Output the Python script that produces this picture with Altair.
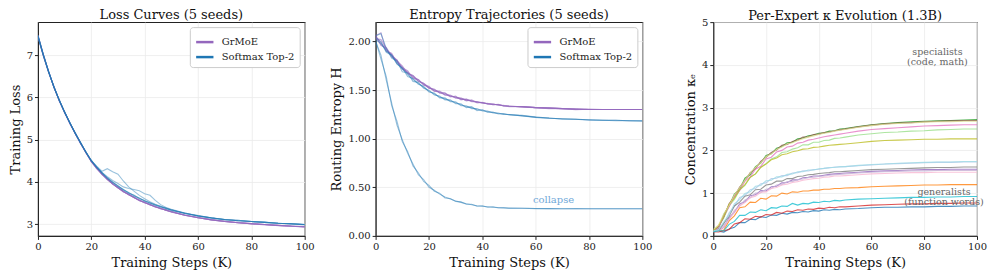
import altair as alt
import pandas as pd

STEPS = [0, 2, 4, 6, 8, 10, 12, 14, 16, 18, 20, 22,
         24, 26, 28, 30, 32, 34, 36, 38, 40, 42, 44, 46,
         48, 50, 55, 60, 65, 70, 75, 80, 85, 90, 95, 100]

# ---------------- Panel 1: training loss ----------------
LOSS_GRMOE = [
    [7.47, 7.01, 6.61, 6.23, 5.93, 5.64, 5.38, 5.14, 4.91, 4.69, 4.48, 4.32,
     4.18, 4.06, 3.95, 3.86, 3.77, 3.70, 3.63, 3.56, 3.51, 3.46, 3.41, 3.37,
     3.33, 3.29, 3.21, 3.15, 3.10, 3.06, 3.03, 3.01, 2.99, 2.97, 2.95, 2.94],
    [7.44, 6.99, 6.59, 6.25, 5.91, 5.65, 5.37, 5.15, 4.90, 4.70, 4.47, 4.33,
     4.17, 4.07, 3.94, 3.87, 3.76, 3.71, 3.62, 3.57, 3.50, 3.47, 3.40, 3.38,
     3.32, 3.30, 3.21, 3.16, 3.10, 3.07, 3.03, 3.01, 2.99, 2.97, 2.96, 2.94],
    [7.46, 7.02, 6.60, 6.24, 5.93, 5.63, 5.39, 5.13, 4.92, 4.68, 4.49, 4.31,
     4.19, 4.05, 3.96, 3.85, 3.78, 3.69, 3.64, 3.55, 3.52, 3.45, 3.42, 3.36,
     3.34, 3.28, 3.22, 3.15, 3.11, 3.06, 3.04, 3.00, 2.99, 2.96, 2.95, 2.93],
    [7.45, 7.00, 6.61, 6.23, 5.92, 5.64, 5.38, 5.14, 4.91, 4.69, 4.48, 4.32,
     4.18, 4.06, 3.95, 3.86, 3.77, 3.70, 3.63, 3.56, 3.51, 3.46, 3.41, 3.37,
     3.33, 3.29, 3.21, 3.15, 3.10, 3.06, 3.03, 3.01, 2.99, 2.97, 2.95, 2.94],
    [7.43, 6.98, 6.60, 6.25, 5.91, 5.65, 5.38, 5.15, 4.91, 4.70, 4.48, 4.33,
     4.18, 4.06, 3.95, 3.86, 3.77, 3.70, 3.63, 3.57, 3.51, 3.46, 3.41, 3.37,
     3.33, 3.29, 3.21, 3.15, 3.10, 3.06, 3.03, 3.01, 2.98, 2.97, 2.95, 2.93],
]
LOSS_SOFTMAX = [
    [7.46, 7.01, 6.62, 6.23, 5.94, 5.64, 5.40, 5.14, 4.93, 4.70, 4.51, 4.35,
     4.22, 4.09, 3.99, 3.90, 3.82, 3.74, 3.68, 3.61, 3.55, 3.50, 3.45, 3.41,
     3.37, 3.33, 3.25, 3.19, 3.14, 3.11, 3.08, 3.06, 3.04, 3.02, 3.00, 2.99],
    [7.43, 6.98, 6.59, 6.26, 5.92, 5.66, 5.38, 5.16, 4.91, 4.71, 4.49, 4.36,
     4.20, 4.10, 3.98, 3.91, 3.80, 3.75, 3.66, 3.62, 3.54, 3.51, 3.44, 3.42,
     3.36, 3.34, 3.25, 3.20, 3.14, 3.11, 3.08, 3.06, 3.04, 3.02, 3.01, 2.99],
    [7.47, 7.02, 6.61, 6.24, 5.93, 5.64, 5.40, 5.14, 4.93, 4.69, 4.51, 4.34,
     4.22, 4.08, 4.00, 3.89, 3.82, 3.73, 3.68, 3.60, 3.56, 3.49, 3.46, 3.40,
     3.38, 3.32, 3.26, 3.19, 3.15, 3.10, 3.09, 3.06, 3.05, 3.02, 3.01, 2.98],
    [7.45, 7.00, 6.60, 6.24, 5.93, 5.65, 5.39, 5.15, 4.92, 4.70, 4.50, 4.37,
     4.25, 4.31, 4.24, 4.18, 4.02, 3.88, 3.78, 3.68, 3.60, 3.53, 3.47, 3.42,
     3.38, 3.34, 3.26, 3.19, 3.15, 3.11, 3.08, 3.06, 3.04, 3.02, 3.00, 2.99],
    [7.44, 7.01, 6.60, 6.25, 5.93, 5.65, 5.39, 5.15, 4.92, 4.70, 4.50, 4.35,
     4.22, 4.12, 4.03, 3.96, 3.88, 3.84, 3.82, 3.79, 3.72, 3.68, 3.56, 3.46,
     3.39, 3.35, 3.26, 3.20, 3.15, 3.11, 3.09, 3.06, 3.04, 3.02, 3.01, 2.99],
]

# ---------------- Panel 2: routing entropy ----------------
ENT_GRMOE = [
    [2.05, 1.99, 1.91, 1.87, 1.79, 1.74, 1.67, 1.65, 1.59, 1.57, 1.52, 1.51,
     1.47, 1.46, 1.44, 1.43, 1.41, 1.40, 1.39, 1.38, 1.37, 1.36, 1.355, 1.35,
     1.34, 1.335, 1.33, 1.32, 1.315, 1.31, 1.305, 1.30, 1.30, 1.30, 1.30, 1.30],
    [2.03, 2.02, 1.93, 1.84, 1.81, 1.72, 1.69, 1.63, 1.61, 1.55, 1.54, 1.49,
     1.49, 1.45, 1.45, 1.42, 1.42, 1.39, 1.40, 1.37, 1.375, 1.355, 1.36, 1.345,
     1.345, 1.33, 1.33, 1.32, 1.32, 1.31, 1.305, 1.30, 1.30, 1.30, 1.30, 1.30],
    [2.07, 1.96, 1.94, 1.85, 1.80, 1.75, 1.67, 1.65, 1.60, 1.56, 1.53, 1.50,
     1.48, 1.47, 1.43, 1.44, 1.40, 1.41, 1.38, 1.38, 1.365, 1.365, 1.35, 1.355,
     1.335, 1.34, 1.325, 1.32, 1.31, 1.31, 1.30, 1.305, 1.30, 1.30, 1.30, 1.30],
    [2.06, 2.09, 1.90, 1.88, 1.78, 1.73, 1.70, 1.62, 1.61, 1.56, 1.52, 1.51,
     1.47, 1.47, 1.44, 1.42, 1.41, 1.40, 1.39, 1.37, 1.37, 1.36, 1.355, 1.35,
     1.34, 1.335, 1.33, 1.32, 1.315, 1.31, 1.305, 1.30, 1.30, 1.30, 1.30, 1.30],
    [2.04, 1.97, 1.92, 1.86, 1.81, 1.72, 1.68, 1.64, 1.59, 1.57, 1.53, 1.49,
     1.48, 1.45, 1.44, 1.43, 1.41, 1.40, 1.385, 1.38, 1.37, 1.36, 1.35, 1.35,
     1.34, 1.335, 1.33, 1.32, 1.315, 1.31, 1.305, 1.30, 1.30, 1.30, 1.30, 1.30],
]
ENT_SOFTMAX = [
    [2.04, 2.00, 1.89, 1.86, 1.77, 1.73, 1.64, 1.62, 1.56, 1.54, 1.48, 1.47,
     1.42, 1.42, 1.38, 1.38, 1.34, 1.34, 1.31, 1.31, 1.285, 1.285, 1.265, 1.265,
     1.25, 1.25, 1.235, 1.22, 1.21, 1.205, 1.20, 1.195, 1.19, 1.19, 1.185, 1.185],
    [2.06, 2.08, 1.93, 1.83, 1.80, 1.69, 1.68, 1.59, 1.58, 1.52, 1.50, 1.45,
     1.44, 1.40, 1.40, 1.36, 1.36, 1.32, 1.33, 1.29, 1.30, 1.27, 1.275, 1.255,
     1.26, 1.245, 1.24, 1.22, 1.215, 1.20, 1.20, 1.19, 1.19, 1.185, 1.185, 1.18],
    [2.02, 1.98, 1.90, 1.86, 1.77, 1.72, 1.66, 1.61, 1.57, 1.53, 1.49, 1.46,
     1.43, 1.41, 1.39, 1.37, 1.35, 1.33, 1.32, 1.30, 1.29, 1.28, 1.27, 1.26,
     1.255, 1.25, 1.235, 1.225, 1.21, 1.205, 1.20, 1.195, 1.19, 1.19, 1.185, 1.185],
    [2.00, 1.86, 1.60, 1.37, 1.14, 0.99, 0.85, 0.74, 0.63, 0.58, 0.50, 0.47,
     0.43, 0.40, 0.38, 0.36, 0.345, 0.33, 0.32, 0.31, 0.305, 0.30, 0.295, 0.29,
     0.288, 0.286, 0.284, 0.282, 0.281, 0.28, 0.28, 0.28, 0.28, 0.28, 0.28, 0.28],
    [2.01, 1.82, 1.64, 1.34, 1.18, 0.97, 0.87, 0.72, 0.65, 0.56, 0.52, 0.46,
     0.44, 0.39, 0.385, 0.355, 0.35, 0.325, 0.325, 0.305, 0.31, 0.295, 0.30, 0.29,
     0.29, 0.285, 0.285, 0.281, 0.282, 0.279, 0.281, 0.279, 0.28, 0.279, 0.28, 0.279],
]

# ---------------- Panel 3: per-expert concentration ----------------
EXPERT_COLORS = ["#1f77b4", "#aec7e8", "#ff7f0e", "#2ca02c", "#98df8a", "#d62728",
                 "#9467bd", "#c5b0d5", "#8c564b", "#e377c2", "#f7b6d2", "#7f7f7f",
                 "#bcbd22", "#dbdb8d", "#17becf", "#9edae5"]
KAPPA = [
    [0.10, 0.11, 0.09, 0.16, 0.20, 0.31, 0.31, 0.39, 0.38, 0.45, 0.43, 0.49,
     0.48, 0.53, 0.51, 0.55, 0.54, 0.57, 0.56, 0.59, 0.58, 0.61, 0.60, 0.62,
     0.61, 0.63, 0.64, 0.66, 0.67, 0.67, 0.68, 0.68, 0.69, 0.69, 0.70, 0.70],
    [0.10, 0.15, 0.28, 0.54, 0.69, 0.90, 0.94, 1.08, 1.11, 1.22, 1.24, 1.34,
     1.35, 1.41, 1.41, 1.47, 1.48, 1.52, 1.52, 1.55, 1.56, 1.58, 1.59, 1.61,
     1.61, 1.62, 1.64, 1.66, 1.68, 1.69, 1.70, 1.71, 1.72, 1.72, 1.73, 1.73],
    [0.10, 0.11, 0.14, 0.35, 0.47, 0.66, 0.68, 0.79, 0.78, 0.88, 0.86, 0.94,
     0.93, 1.00, 0.98, 1.03, 1.02, 1.05, 1.05, 1.07, 1.07, 1.09, 1.09, 1.11,
     1.11, 1.12, 1.13, 1.15, 1.16, 1.17, 1.18, 1.19, 1.19, 1.20, 1.20, 1.20],
    [0.10, 0.18, 0.50, 0.70, 0.98, 1.09, 1.35, 1.43, 1.62, 1.70, 1.88, 1.92,
     2.05, 2.09, 2.18, 2.19, 2.27, 2.29, 2.34, 2.36, 2.40, 2.41, 2.45, 2.46,
     2.50, 2.51, 2.56, 2.60, 2.63, 2.65, 2.67, 2.68, 2.69, 2.70, 2.71, 2.72],
    [0.11, 0.21, 0.42, 0.70, 0.85, 1.07, 1.18, 1.37, 1.45, 1.61, 1.69, 1.80,
     1.85, 1.95, 1.97, 2.03, 2.06, 2.13, 2.13, 2.19, 2.19, 2.23, 2.24, 2.28,
     2.29, 2.31, 2.36, 2.39, 2.42, 2.43, 2.45, 2.46, 2.48, 2.49, 2.50, 2.50],
    [0.10, 0.09, 0.12, 0.15, 0.28, 0.31, 0.40, 0.39, 0.46, 0.44, 0.50, 0.49,
     0.55, 0.53, 0.58, 0.57, 0.61, 0.60, 0.63, 0.62, 0.65, 0.64, 0.67, 0.66,
     0.68, 0.68, 0.70, 0.72, 0.73, 0.74, 0.75, 0.75, 0.76, 0.76, 0.77, 0.77],
    [0.10, 0.12, 0.20, 0.43, 0.55, 0.75, 0.80, 0.94, 0.96, 1.06, 1.05, 1.15,
     1.16, 1.24, 1.25, 1.31, 1.31, 1.36, 1.37, 1.40, 1.40, 1.42, 1.44, 1.45,
     1.46, 1.47, 1.49, 1.51, 1.52, 1.53, 1.54, 1.55, 1.55, 1.56, 1.56, 1.56],
    [0.11, 0.13, 0.24, 0.38, 0.60, 0.70, 0.84, 0.89, 1.00, 1.01, 1.09, 1.11,
     1.19, 1.20, 1.27, 1.27, 1.32, 1.33, 1.36, 1.37, 1.39, 1.40, 1.42, 1.43,
     1.44, 1.45, 1.47, 1.49, 1.50, 1.51, 1.52, 1.52, 1.53, 1.53, 1.53, 1.53],
    [0.12, 0.22, 0.45, 0.75, 0.92, 1.14, 1.29, 1.48, 1.57, 1.74, 1.84, 1.95,
     2.01, 2.12, 2.14, 2.21, 2.24, 2.31, 2.32, 2.37, 2.38, 2.42, 2.43, 2.46,
     2.48, 2.50, 2.55, 2.59, 2.62, 2.64, 2.65, 2.67, 2.68, 2.69, 2.70, 2.70],
    [0.10, 0.19, 0.47, 0.68, 0.93, 1.06, 1.28, 1.38, 1.56, 1.63, 1.80, 1.84,
     1.96, 2.00, 2.08, 2.10, 2.17, 2.19, 2.24, 2.26, 2.29, 2.32, 2.34, 2.36,
     2.38, 2.40, 2.45, 2.49, 2.51, 2.53, 2.55, 2.57, 2.58, 2.59, 2.60, 2.60],
    [0.10, 0.11, 0.21, 0.39, 0.55, 0.70, 0.78, 0.89, 0.93, 1.02, 1.03, 1.11,
     1.13, 1.19, 1.21, 1.25, 1.27, 1.30, 1.32, 1.34, 1.35, 1.37, 1.38, 1.40,
     1.40, 1.41, 1.43, 1.45, 1.46, 1.47, 1.48, 1.48, 1.49, 1.49, 1.49, 1.49],
    [0.10, 0.12, 0.30, 0.46, 0.70, 0.79, 0.93, 0.96, 1.08, 1.09, 1.19, 1.21,
     1.28, 1.28, 1.34, 1.34, 1.39, 1.40, 1.43, 1.44, 1.46, 1.47, 1.48, 1.50,
     1.50, 1.51, 1.53, 1.55, 1.56, 1.57, 1.58, 1.59, 1.60, 1.60, 1.61, 1.61],
    [0.12, 0.24, 0.46, 0.74, 0.88, 1.08, 1.20, 1.37, 1.45, 1.60, 1.68, 1.78,
     1.82, 1.90, 1.92, 1.97, 1.99, 2.03, 2.04, 2.07, 2.08, 2.10, 2.12, 2.13,
     2.14, 2.15, 2.18, 2.21, 2.23, 2.24, 2.25, 2.26, 2.26, 2.27, 2.27, 2.27],
    [0.15, 0.25, 0.52, 0.71, 0.96, 1.13, 1.30, 1.47, 1.60, 1.71, 1.85, 1.92,
     2.02, 2.08, 2.15, 2.18, 2.23, 2.27, 2.31, 2.34, 2.37, 2.40, 2.42, 2.45,
     2.47, 2.49, 2.54, 2.58, 2.61, 2.63, 2.64, 2.66, 2.67, 2.67, 2.68, 2.68],
    [0.10, 0.12, 0.12, 0.27, 0.34, 0.48, 0.48, 0.56, 0.55, 0.61, 0.59, 0.66,
     0.65, 0.70, 0.69, 0.76, 0.72, 0.76, 0.75, 0.79, 0.78, 0.81, 0.80, 0.83,
     0.82, 0.84, 0.86, 0.87, 0.88, 0.89, 0.90, 0.90, 0.91, 0.91, 0.92, 0.92],
    [0.12, 0.14, 0.33, 0.49, 0.75, 0.85, 0.99, 1.03, 1.16, 1.18, 1.29, 1.30,
     1.38, 1.38, 1.44, 1.45, 1.50, 1.50, 1.54, 1.54, 1.57, 1.58, 1.60, 1.60,
     1.62, 1.62, 1.65, 1.67, 1.68, 1.70, 1.71, 1.72, 1.73, 1.73, 1.74, 1.74],
]

METHODS = ["GrMoE", "Softmax Top-2"]
METHOD_COLORS = ["#9467bd", "#1f77b4"]
X_TICKS = [0, 20, 40, 60, 80, 100]
LOSS_TICKS = [3, 4, 5, 6, 7]
ENT_TICKS = [0.0, 0.25, 0.5, 0.75, 1.0, 1.25, 1.5, 1.75, 2.0]
KAPPA_TICKS = [0, 1, 2, 3, 4, 5]

COLLAPSE_NOTE = {"x": [66.7], "y": [0.37], "label": ["collapse"]}
KAPPA_NOTES = {"x": [85.0, 87.5], "y": [4.3, 1.02],
               "label": ["specialists\n(code, math)", "generalists\n(function words)"]}

FONT = "DejaVu Serif"
W12, W3, H = 267, 264, 214


def seeds_frame(seed_lists, method, prefix):
    rows = []
    for i, vals in enumerate(seed_lists):
        assert len(vals) == len(STEPS), (prefix, i, len(vals))
        for s, v in zip(STEPS, vals):
            rows.append({"step": s, "value": v, "method": method, "seed": f"{prefix}{i}"})
    return pd.DataFrame(rows)


def x_enc():
    return alt.X("step:Q", scale=alt.Scale(domain=[0, 100], nice=False),
                 axis=alt.Axis(values=X_TICKS, title="Training Steps (K)", labelFlush=False,
                               titleFontWeight="normal"))


def method_color():
    return alt.Color(
        "method:N",
        scale=alt.Scale(domain=METHODS, range=METHOD_COLORS),
        legend=alt.Legend(title=None, orient="top-right", offset=5,
                          symbolType="stroke", symbolStrokeWidth=2.5, symbolSize=300,
                          symbolOpacity=1, labelFont=FONT, labelFontSize=10, labelOffset=7,
                          labelFontWeight="normal", labelColor="#222222",
                          strokeColor="#cccccc", fillColor="white", padding=5,
                          cornerRadius=3, rowPadding=0, labelLimit=200),
    )


def panel_title(text, offset):
    return alt.TitleParams(text, font=FONT, fontSize=13, fontWeight="normal", offset=offset,
                           color="#111111")


def method_panel(gr_lists, sm_lists, prefix, y_title, y_domain, y_ticks, y_fmt):
    y = alt.Y("value:Q", scale=alt.Scale(domain=y_domain, nice=False, zero=False),
              axis=alt.Axis(values=y_ticks, title=y_title, format=y_fmt,
                            titleFontWeight="normal"))
    g = alt.Chart(seeds_frame(gr_lists, "GrMoE", prefix + "g")).mark_line(
        strokeWidth=1.1, opacity=0.55, clip=True).encode(
        x=x_enc(), y=y, color=method_color(), detail="seed:N")
    s = alt.Chart(seeds_frame(sm_lists, "Softmax Top-2", prefix + "s")).mark_line(
        strokeWidth=1.1, opacity=0.45, clip=True).encode(
        x=x_enc(), y=y, color=method_color(), detail="seed:N")
    return [g, s]


p1 = alt.layer(*method_panel(LOSS_GRMOE, LOSS_SOFTMAX, "L", "Training Loss", [2.72, 7.78],
                             LOSS_TICKS, "d")).properties(
    width=W12, height=H, title=panel_title("Loss Curves (5 seeds)", 0))

note2 = alt.Chart(pd.DataFrame(COLLAPSE_NOTE)).mark_text(
    font=FONT, fontSize=10, color="#6fa8d8", align="center", baseline="middle").encode(
    x=alt.X("x:Q"), y=alt.Y("y:Q"), text="label:N")
p2 = alt.layer(*method_panel(ENT_GRMOE, ENT_SOFTMAX, "E", "Routing Entropy H", [0, 2.2],
                             ENT_TICKS, ".2f"), note2).properties(
    width=W12, height=H, title=panel_title("Entropy Trajectories (5 seeds)", 0))

rows = []
for i, vals in enumerate(KAPPA):
    assert len(vals) == len(STEPS), ("kappa", i, len(vals))
    for s, v in zip(STEPS, vals):
        rows.append({"step": s, "value": v, "expert": f"E{i:02d}"})
kdf = pd.DataFrame(rows)
expert_names = [f"E{i:02d}" for i in range(len(KAPPA))]

k_lines = alt.Chart(kdf).mark_line(strokeWidth=1.1, opacity=0.8, clip=True).encode(
    x=x_enc(),
    y=alt.Y("value:Q", scale=alt.Scale(domain=[0, 5], nice=False),
            axis=alt.Axis(values=KAPPA_TICKS, title="Concentration κₑ", format="d",
                          titleFontWeight="normal")),
    color=alt.Color("expert:N", scale=alt.Scale(domain=expert_names, range=EXPERT_COLORS),
                    legend=None),
)
k_notes = alt.Chart(pd.DataFrame(KAPPA_NOTES)).mark_text(
    font=FONT, fontSize=9.5, color="#666666", align="center", baseline="middle",
    lineBreak="\n", lineHeight=10).encode(
    x=alt.X("x:Q"), y=alt.Y("y:Q"), text="label:N")
# the top "5" tick label pokes above the plot, so pull this title down to match the others
p3 = alt.layer(k_lines, k_notes).properties(
    width=W3, height=H, title=panel_title("Per-Expert κ Evolution (1.3B)", -6))

left = alt.hconcat(p1, p2, spacing=14).resolve_scale(color="independent").resolve_legend(
    color="independent")
chart = alt.hconcat(left, p3, spacing=30).resolve_scale(color="independent").resolve_legend(
    color="independent").properties(padding=0).configure_axis(
    labelFont=FONT, titleFont=FONT, labelFontSize=10, titleFontSize=13,
    titleFontWeight="normal", labelColor="#222222", titleColor="#111111",
    gridColor="#ebebeb", gridWidth=0.8, domainColor="#222222", tickColor="#222222",
    tickSize=3.5, labelPadding=2, titlePadding=4,
).configure_axisX(titlePadding=5).configure_view(
    stroke="#222222", strokeWidth=1.1).configure_legend(labelFont=FONT)

chart.save("out.html", embed_options={"renderer": "svg", "actions": False})
